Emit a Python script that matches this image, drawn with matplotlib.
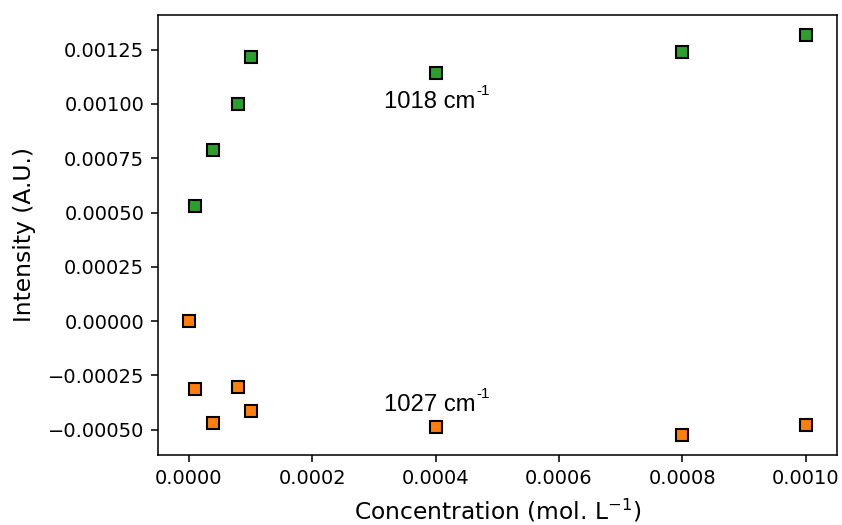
import matplotlib
matplotlib.use("Agg")
import matplotlib.pyplot as plt

# concentration (mol/L) and band intensities
conc_1018 = [0.00001, 0.00004, 0.00008, 0.0001, 0.0004, 0.0008, 0.001]
int_1018 = [0.000528, 0.000787, 0.001000, 0.001218, 0.001144, 0.001241, 0.001319]

conc_1027 = [0.0, 0.00001, 0.00004, 0.00008, 0.0001, 0.0004, 0.0008, 0.001]
int_1027 = [0.0, -0.000313, -0.000470, -0.000304, -0.000414, -0.000488, -0.000525, -0.000479]

labels = ['1018 cm', '1027 cm']
label_pos = [(0.000317, 0.00101), (0.000317, -0.000387)]

fig = plt.figure(figsize=(8.42, 5.25), dpi=100)
ax = fig.add_axes([0.1876, 0.133, 0.806, 0.839])

ax.plot(conc_1018, int_1018, 's', color='#2ca02c', mec='black', mew=1.5, ms=8.6)
ax.plot(conc_1027, int_1027, 's', color='#ff7f0e', mec='black', mew=1.5, ms=8.6)

for lab, (px, py) in zip(labels, label_pos):
    t = ax.text(px, py, lab, family='Liberation Sans', fontsize=17.2,
                ha='left', va='center')
    ax.annotate('-1', xy=(1, 1), xycoords=t, xytext=(0.5, -5), textcoords='offset points',
                family='Liberation Sans', fontsize=11, ha='left', va='bottom')

ax.set_xticks([0, 0.0002, 0.0004, 0.0006, 0.0008, 0.001])
ax.set_xticklabels(['0.0000', '0.0002', '0.0004', '0.0006', '0.0008', '0.0010'])
ax.set_yticks([-0.0005, -0.00025, 0, 0.00025, 0.0005, 0.00075, 0.001, 0.00125])
ax.set_yticklabels(['\u22120.00050', '\u22120.00025', '0.00000', '0.00025', '0.00050',
                    '0.00075', '0.00100', '0.00125'])
ax.tick_params(labelsize=14, width=1.12, length=4.9, pad=4.9)
for s in ax.spines.values():
    s.set_linewidth(1.12)

ax.set_xlabel('Concentration (mol. L$^{-1}$)', fontsize=16.8, labelpad=7)
ax.set_ylabel('Intensity (A.U.)', fontsize=16.8, labelpad=8.5)

fig.savefig('out.png', dpi=100)
